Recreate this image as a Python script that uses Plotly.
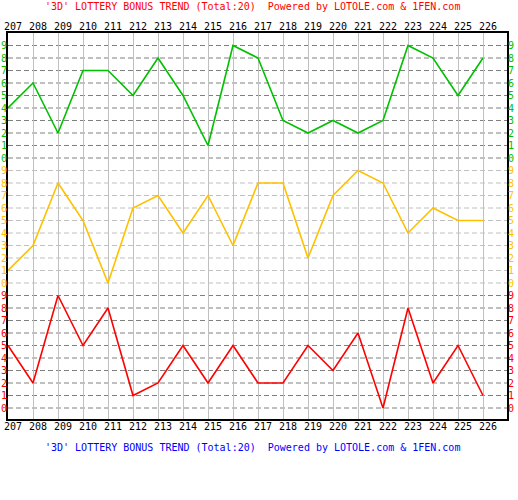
import plotly.graph_objects as go

# issue numbers and the three bonus digits per draw
issues = list(range(207, 227))
digit_top = [4, 6, 2, 7, 7, 5, 8, 5, 1, 9, 8, 3, 2, 3, 2, 3, 9, 8, 5, 8]
digit_mid = [1, 3, 8, 5, 0, 6, 7, 4, 7, 3, 8, 8, 2, 7, 9, 8, 4, 6, 5, 5]
digit_bot = [5, 2, 9, 5, 8, 1, 2, 5, 2, 5, 2, 2, 5, 3, 6, 0, 8, 2, 5, 1]
levels = list(range(10))

title_top = "'3D' LOTTERY BONUS TREND (Total:20)\u00a0\u00a0Powered by LOTOLE.com & 1FEN.com"
title_bottom = title_top

W, H = 518, 500
L, R, T, B = 8, 507, 33, 419
STEP = 12.5
MONO = "DejaVu Sans Mono"


def px_x(px):
    return (px - L) / (R - L)


def px_y(py):
    return (B - py) / (B - T)


# (values, offset, colour, grid colour)
sections = [
    (digit_top, 20, "#00c000", "#808080"),
    (digit_mid, 10, "#ffc000", "#c0c0c0"),
    (digit_bot, 0, "#ff0000", "#808080"),
]

fig = go.Figure()
shapes = []
annotations = []

for vals, off, col, gcol in sections:
    fig.add_trace(go.Scatter(
        x=issues, y=[v + off for v in vals], mode="lines",
        line=dict(color=col, width=1.6), hoverinfo="skip", showlegend=False,
    ))
    for lv in levels:
        shapes.append(dict(
            type="line", xref="paper", yref="y", x0=0, x1=1, y0=lv + off, y1=lv + off,
            line=dict(color=gcol, width=1, dash="5px,3px"), layer="below",
        ))
        for xp in (3.5, 511):
            annotations.append(dict(
                x=px_x(xp), y=lv + off, xref="paper", yref="y", text=str(lv),
                showarrow=False, xanchor="center", yanchor="middle", borderpad=0,
                font=dict(family=MONO, size=10, color=col),
            ))

# issue labels top and bottom
for iss in issues:
    for py in (27, 426):
        annotations.append(dict(
            x=iss, y=px_y(py), xref="x", yref="paper", text=str(iss),
            showarrow=False, xanchor="center", yanchor="middle", xshift=5,
            borderpad=0, font=dict(family=MONO, size=10, color="black"),
        ))

annotations.append(dict(
    x=px_x(252), y=px_y(7), xref="paper", yref="paper", text=title_top,
    showarrow=False, xanchor="center", yanchor="middle", borderpad=0,
    font=dict(family=MONO, size=10, color="#ff0000"),
))
annotations.append(dict(
    x=px_x(252), y=px_y(447), xref="paper", yref="paper", text=title_bottom,
    showarrow=False, xanchor="center", yanchor="middle", borderpad=0,
    font=dict(family=MONO, size=10, color="#0000ff"),
))

y_top = 30
y_bottom = y_top - (B - T) / STEP

fig.update_layout(
    width=W, height=H,
    margin=dict(l=L, r=W - R, t=T, b=H - B, pad=0),
    paper_bgcolor="white", plot_bgcolor="white",
    shapes=shapes, annotations=annotations,
    xaxis=dict(
        range=[207, 207 + (R - L) / 25], tickvals=issues, showticklabels=False,
        showgrid=True, gridcolor="#c0c0c0", gridwidth=1, zeroline=False,
        showline=True, mirror=True, linecolor="black", linewidth=2, ticks="",
        fixedrange=True,
    ),
    yaxis=dict(
        range=[y_bottom, y_top], showgrid=False, showticklabels=False,
        zeroline=False, showline=True, mirror=True, linecolor="black",
        linewidth=2, ticks="", fixedrange=True,
    ),
)

# page has a default 8px body margin; drop it so the chart sits at 0,0
fig.write_html("out.html", config={"displayModeBar": False},
               post_script="document.body.style.margin='0';")
